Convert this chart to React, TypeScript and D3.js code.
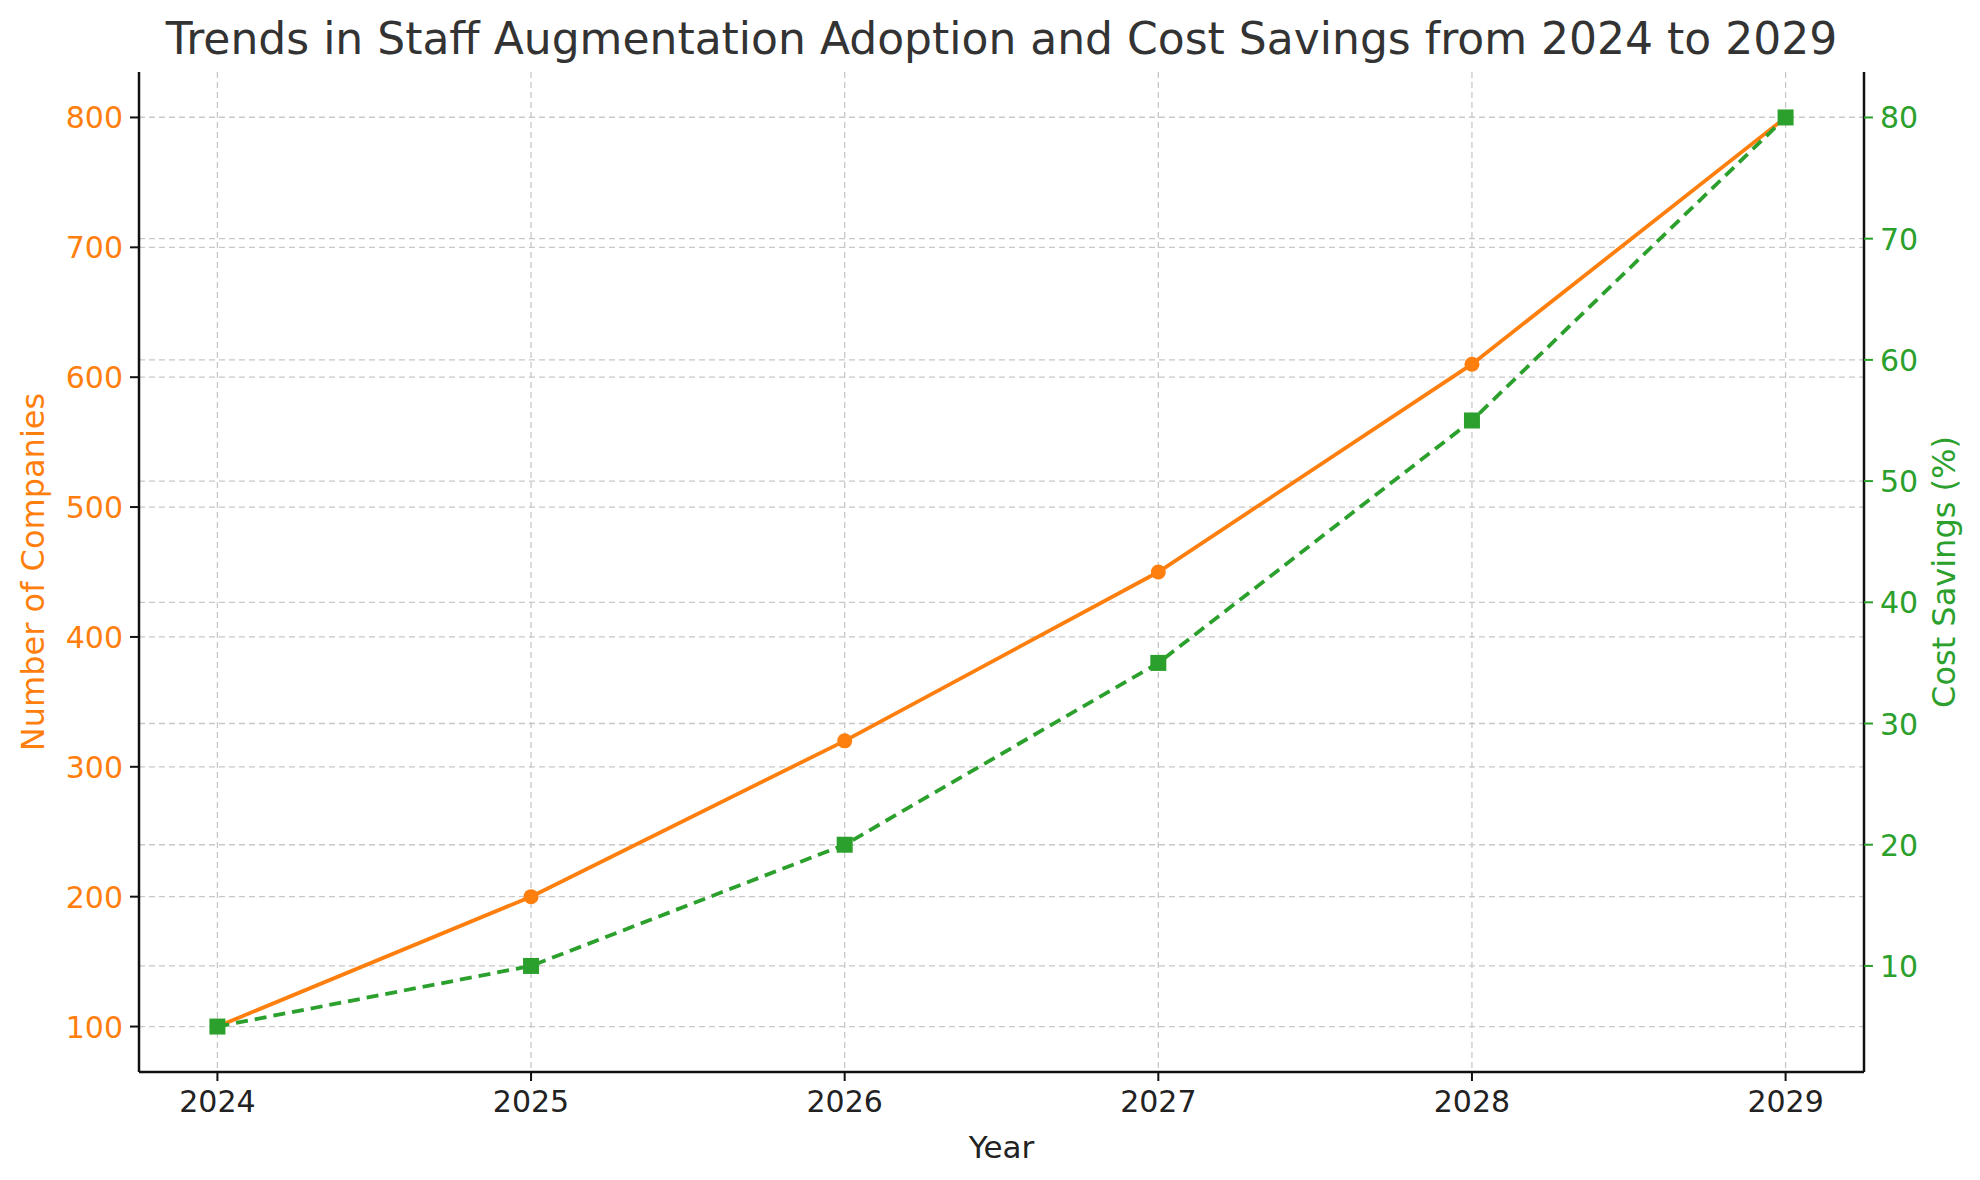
import React from "react";
import * as d3 from "d3";

const years = [2024, 2025, 2026, 2027, 2028, 2029];
const companies = [100, 200, 320, 450, 610, 800];
const savings = [5, 10, 20, 35, 55, 80];
const leftTicks = [100, 200, 300, 400, 500, 600, 700, 800];
const rightTicks = [10, 20, 30, 40, 50, 60, 70, 80];

const W = 1980, H = 1180;
const L = 139, R = 1864, T = 72, B = 1072;
const ORANGE = "#ff7f0e", GREEN = "#2ca02c";
const font = "DejaVu Sans, sans-serif";

export default function App() {
  const x = d3.scaleLinear().domain([2023.75, 2029.25]).range([L, R]);
  const yL = d3.scaleLinear().domain([65, 835]).range([B, T]);
  const yR = d3.scaleLinear().domain([1.25, 83.75]).range([B, T]);
  const lineL = d3.line<number>().x((_, i) => x(years[i])).y((d) => yL(d));
  const lineR = d3.line<number>().x((_, i) => x(years[i])).y((d) => yR(d));
  const grid = { stroke: "#c8c8c8", strokeDasharray: "6,4", strokeWidth: 1.3 };
  return (
    <svg width={W} height={H} style={{ position: "absolute", left: 0, top: 0, background: "#fff" }} fontFamily={font}>
      <rect width={W} height={H} fill="#fff" />
      {years.map((yv) => <line key={"gx" + yv} x1={x(yv)} x2={x(yv)} y1={T} y2={B} {...grid} />)}
      {leftTicks.map((t) => <line key={"gl" + t} x1={L} x2={R} y1={yL(t)} y2={yL(t)} {...grid} />)}
      {rightTicks.map((t) => <line key={"gr" + t} x1={L} x2={R} y1={yR(t)} y2={yR(t)} {...grid} />)}
      <path d={lineL(companies)!} fill="none" stroke={ORANGE} strokeWidth={3.8} />
      {companies.map((c, i) => <circle key={"c" + i} cx={x(years[i])} cy={yL(c)} r={7.5} fill={ORANGE} />)}
      <path d={lineR(savings)!} fill="none" stroke={GREEN} strokeWidth={3.8} strokeDasharray="12,7" />
      {savings.map((s, i) => <rect key={"s" + i} x={x(years[i]) - 8} y={yR(s) - 8} width={16} height={16} fill={GREEN} />)}
      <line x1={L} x2={L} y1={T} y2={B} stroke="#111" strokeWidth={2.5} />
      <line x1={R} x2={R} y1={T} y2={B} stroke="#111" strokeWidth={2.5} />
      <line x1={L} x2={R} y1={B} y2={B} stroke="#111" strokeWidth={2.5} />
      {years.map((yv) => (
        <g key={"tx" + yv}>
          <line x1={x(yv)} x2={x(yv)} y1={B} y2={B + 9} stroke="#111" strokeWidth={2} />
          <text x={x(yv)} y={B + 40} textAnchor="middle" fontSize={30} fill="#222">{yv}</text>
        </g>
      ))}
      {leftTicks.map((t) => (
        <g key={"tl" + t}>
          <line x1={L - 9} x2={L} y1={yL(t)} y2={yL(t)} stroke="#111" strokeWidth={2} />
          <text x={L - 16} y={yL(t) + 11} textAnchor="end" fontSize={30} fill={ORANGE}>{t}</text>
        </g>
      ))}
      {rightTicks.map((t) => (
        <g key={"tr" + t}>
          <line x1={R} x2={R + 9} y1={yR(t)} y2={yR(t)} stroke={GREEN} strokeWidth={2} />
          <text x={R + 16} y={yR(t) + 11} textAnchor="start" fontSize={30} fill={GREEN}>{t}</text>
        </g>
      ))}
      <text x={(L + R) / 2} y={B + 86} textAnchor="middle" fontSize={31} fill="#222">Year</text>
      <text transform={`translate(44,${(T + B) / 2}) rotate(-90)`} textAnchor="middle" fontSize={32} fill={ORANGE}>Number of Companies</text>
      <text transform={`translate(1955,${(T + B) / 2}) rotate(-90)`} textAnchor="middle" fontSize={32} fill={GREEN}>Cost Savings (%)</text>
      <text x={(L + R) / 2} y={54} textAnchor="middle" fontSize={44} fill="#333">Trends in Staff Augmentation Adoption and Cost Savings from 2024 to 2029</text>
    </svg>
  );
}
